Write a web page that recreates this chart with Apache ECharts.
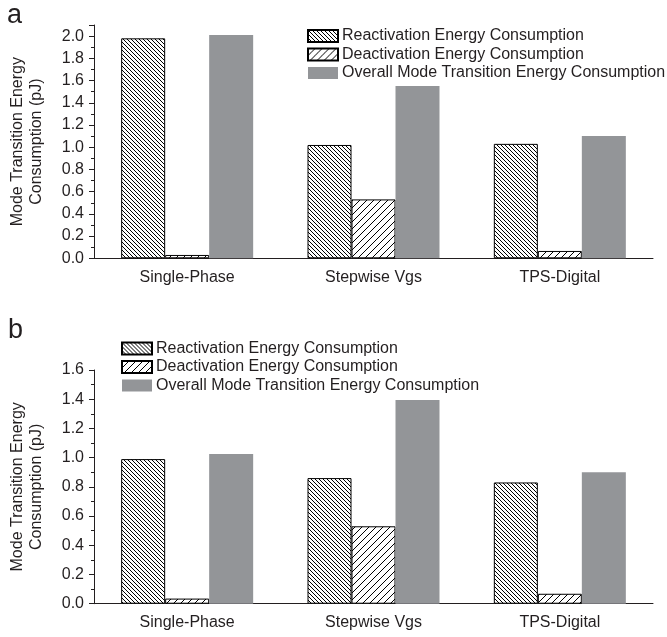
<!DOCTYPE html>
<html><head><meta charset="utf-8">
<script src="https://cdn.jsdelivr.net/npm/echarts@6/dist/echarts.min.js"></script>
<style>html,body{margin:0;padding:0;background:#fff}#c{width:667px;height:637px}</style>
</head><body><div id="c"></div>
<script>
const categories = ['Single-Phase', 'Stepwise Vgs', 'TPS-Digital'];
const seriesNames = ['Reactivation Energy Consumption', 'Deactivation Energy Consumption', 'Overall Mode Transition Energy Consumption'];
const reactA = [1.98, 1.02, 1.03];
const deactA = [0.03, 0.53, 0.066];
const overallA = [2.01, 1.55, 1.10];
const reactB = [0.99, 0.86, 0.83];
const deactB = [0.035, 0.53, 0.068];
const overallB = [1.025, 1.395, 0.90];
const yTicksA = { min: 0, max: 2.1, interval: 0.2 };
const yTicksB = { min: 0, max: 1.6, interval: 0.2 };
const yName = 'Mode Transition Energy\nConsumption (pJ)';
const panelLabels = ['a', 'b'];

const INK = '#231f20';
const GRAY = '#939598';
const FONT = 'Liberation Sans, Arial, sans-serif';

function hatch(size, back) {
  const c = document.createElement('canvas');
  c.width = size; c.height = size;
  const g = c.getContext('2d');
  g.fillStyle = '#fff'; g.fillRect(0, 0, size, size);
  g.strokeStyle = '#000'; g.lineWidth = 1;
  g.beginPath();
  if (back) {
    g.moveTo(-1, -1); g.lineTo(size + 1, size + 1);
    g.moveTo(-1, size - 1); g.lineTo(1, size + 1);
    g.moveTo(size - 1, -1); g.lineTo(size + 1, 1);
  } else {
    g.moveTo(-1, size + 1); g.lineTo(size + 1, -1);
    g.moveTo(-1, 1); g.lineTo(1, -1);
    g.moveTo(size - 1, size + 1); g.lineTo(size + 1, size - 1);
  }
  g.stroke();
  return c;
}
const patReact = { image: hatch(4, true), repeat: 'repeat' };
const patDeact = { image: hatch(7, false), repeat: 'repeat' };

const styles = [
  { color: patReact, borderColor: '#000', borderWidth: 1 },
  { color: patDeact, borderColor: '#000', borderWidth: 1 },
  { color: GRAY, borderWidth: 0 }
];

function yLabelFmt(v) {
  if (Math.abs(v * 5 - Math.round(v * 5)) > 1e-6) return '';
  return v.toFixed(1);
}

function xAxis(gi) {
  return {
    type: 'category', gridIndex: gi, data: categories,
    axisLine: { lineStyle: { color: INK, width: 1 } },
    axisTick: { alignWithLabel: true, length: 5, lineStyle: { color: INK } },
    axisLabel: { color: INK, fontSize: 16, fontFamily: FONT, margin: 11 }
  };
}
function yAxis(gi, t) {
  return {
    type: 'value', gridIndex: gi, min: t.min, max: t.max, interval: t.interval,
    name: yName, nameLocation: 'middle', nameGap: 48, nameRotate: 90,
    nameTextStyle: { color: INK, fontSize: 16, fontFamily: FONT, lineHeight: 19 },
    axisLine: { show: true, lineStyle: { color: INK, width: 1 } },
    axisTick: { show: true, length: 5, lineStyle: { color: INK } },
    minorTick: { show: true, splitNumber: 2, length: 3, lineStyle: { color: INK } },
    splitLine: { show: false },
    axisLabel: { color: INK, fontSize: 16, fontFamily: FONT, margin: 10, formatter: yLabelFmt }
  };
}
function bars(gi, arrs) {
  return arrs.map((d, i) => ({
    type: 'bar', name: seriesNames[i], xAxisIndex: gi, yAxisIndex: gi,
    data: d, barWidth: 44, barGap: '0%', itemStyle: styles[i], silent: true,
    emphasis: { disabled: true }
  }));
}
function legend(left, top) {
  return {
    orient: 'vertical', left: left, top: top, padding: 0, itemWidth: 30, itemHeight: 12, itemGap: 2.5,
    selectedMode: false,
    textStyle: { color: INK, fontSize: 16, fontFamily: FONT, padding: [0, 0, 0, -1] },
    data: seriesNames.map(n => ({ name: n, icon: 'rect' }))
  };
}

const chart = echarts.init(document.getElementById('c'), null, { renderer: 'canvas' });
chart.setOption({
  animation: false,
  backgroundColor: '#fff',
  grid: [
    { left: 93, right: 14, top: 25, height: 233.3 },
    { left: 93, right: 14, top: 370, height: 233.7 }
  ],
  xAxis: [xAxis(0), xAxis(1)],
  yAxis: [yAxis(0, yTicksA), yAxis(1, yTicksB)],
  legend: [legend(307, 28), legend(121, 340.5)],
  series: [...bars(0, [reactA, deactA, overallA]), ...bars(1, [reactB, deactB, overallB])],
  graphic: [
    { type: 'text', left: 7, top: 2, style: { text: panelLabels[0], fontSize: 27, fill: INK, fontFamily: FONT } },
    { type: 'text', left: 8, top: 317, style: { text: panelLabels[1], fontSize: 27, fill: INK, fontFamily: FONT } }
  ]
});
</script></body></html>
